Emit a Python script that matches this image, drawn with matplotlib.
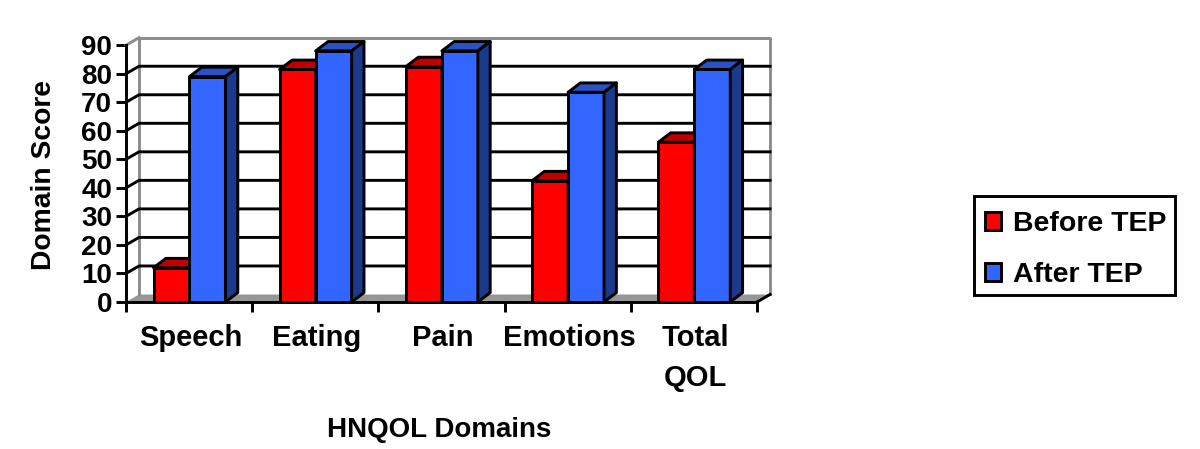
import matplotlib
matplotlib.use("Agg")
import matplotlib.pyplot as plt
from matplotlib.patches import Polygon, Patch, Rectangle
import numpy as np

plt.rcParams['font.family'] = ['Liberation Sans', 'DejaVu Sans']
plt.rcParams['font.weight'] = 'bold'

categories = ["Speech", "Eating", "Pain", "Emotions", "Total\nQOL"]
before_tep = [12, 81.5, 82.5, 42.5, 56]
after_tep = [79, 88, 88, 73.5, 81.5]
yticks = list(range(0, 100, 10))

# fake 3d depth, in data units
dx = 13 / 126.2
dy = 7.5 / 2.853
bar_w = 0.285
lw = 2.1

fig = plt.figure(figsize=(12, 4.49), dpi=100)
ax = fig.add_axes([126 / 1200, (449 - 302) / 449, 644 / 1200, 264.3 / 449])
ax.set_xlim(0, 5 + dx)
ax.set_ylim(0, 90 + dy)


def bar3d(x, val, front, top, side):
    ax.bar(x, val, bar_w, align='edge', color=front, edgecolor='k', lw=lw, zorder=4, clip_on=False)
    bdx = dx * 0.95
    bdy = dy * 1.25
    ax.add_patch(Polygon([(x, val), (x + bdx, val + bdy), (x + bar_w + bdx, val + bdy), (x + bar_w, val)],
                         fc=top, ec='k', lw=lw, zorder=4, clip_on=False, joinstyle='round'))
    ax.add_patch(Polygon([(x + bar_w, 0), (x + bar_w + bdx, bdy), (x + bar_w + bdx, val + bdy), (x + bar_w, val)],
                         fc=side, ec='k', lw=lw, zorder=4, clip_on=False, joinstyle='round'))


# floor and walls
ax.add_patch(Polygon([(0, 0), (dx, dy), (5 + dx, dy), (5, 0)], fc='#969696', ec='none', zorder=1))
ax.plot([dx, dx, 5 + dx, 5 + dx], [dy, 90 + dy, 90 + dy, dy], color='#8c8c8c', lw=lw, zorder=2, clip_on=False)

for v in yticks[1:-1]:
    ax.plot([0, dx, 5 + dx], [v, v + dy, v + dy], color='k', lw=lw, zorder=3, clip_on=False)
ax.plot([0, dx], [90, 90 + dy], color='#8c8c8c', lw=lw, zorder=3, clip_on=False)
ax.plot([5, 5 + dx], [0, dy], color='k', lw=lw, zorder=3, clip_on=False)

for i in range(len(categories)):
    bar3d(i + 0.218, before_tep[i], '#ff0000', '#c00000', '#8c0000')
    bar3d(i + 0.218 + bar_w, after_tep[i], '#3366ff', '#2a52c4', '#1c3a8c')

for s in ['top', 'right']:
    ax.spines[s].set_visible(False)
ax.spines['left'].set_bounds(0, 90)
ax.spines['bottom'].set_bounds(0, 5)
ax.spines['left'].set_linewidth(lw)
ax.spines['bottom'].set_linewidth(lw)
ax.spines['left'].set_zorder(5)
ax.spines['bottom'].set_zorder(5)

ax.set_yticks(yticks)
ax.set_yticklabels([str(v) for v in yticks], fontsize=20)
ax.tick_params(axis='y', length=7, width=lw, pad=3)
ax.set_xticks(range(6))
ax.set_xticklabels([])
ax.tick_params(axis='x', which='major', length=7, width=lw)
ax.set_xticks(np.arange(5) + 0.51, minor=True)
ax.set_xticklabels(categories, minor=True, fontsize=21, linespacing=1.55)
ax.tick_params(axis='x', which='minor', length=0, pad=15.5)

fig.text(44 / 1200, 1 - 175 / 449, "Domain Score", rotation=90, fontsize=20.3, ha='center', va='center')
fig.text(439.5 / 1200, 1 - 430 / 449, "HNQOL Domains", fontsize=20, ha='center', va='center')

# legend box drawn apart, its padding differs per side
fig.add_artist(Rectangle((974 / 1200, 1 - 295 / 449), 201 / 1200, 99 / 449, transform=fig.transFigure,
                         fc='w', ec='k', lw=lw))
handles = [Patch(fc='#ff0000', ec='k', lw=lw), Patch(fc='#3366ff', ec='k', lw=lw)]
leg = fig.legend(handles, ["Before TEP", "After TEP"], loc='center',
                 bbox_to_anchor=(1076 / 1200, 1 - 249.5 / 449), prop={'size': 20.5, 'weight': 'bold'},
                 frameon=False, handlelength=0.55, handleheight=0.6,
                 handletextpad=0.45, labelspacing=0.85, borderpad=0)
leg.set_zorder(6)

fig.savefig("out.png", dpi=100)
